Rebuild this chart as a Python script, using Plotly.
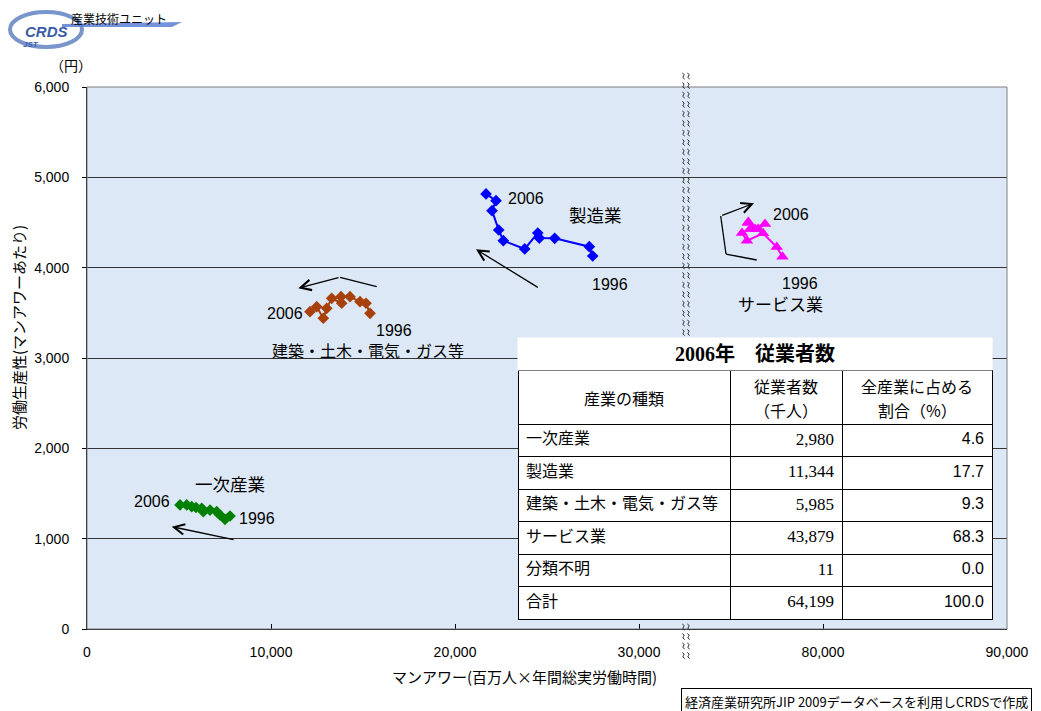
import plotly.graph_objects as go

# ---------------- data ----------------
years = list(range(1996, 2007))

mfg_x = [27485, 27300, 25419, 24583, 24500, 23789, 22626, 22376, 22012, 22229, 21686]
mfg_y = [4129, 4232, 4325, 4328, 4384, 4207, 4299, 4417, 4631, 4742, 4816]

con_x = [15381, 15164, 14838, 14294, 13805, 13843, 13299, 13028, 12843, 12484, 12120]
con_y = [3495, 3606, 3623, 3679, 3679, 3606, 3661, 3550, 3440, 3568, 3513]

pri_x = [7772, 7500, 7229, 7049, 6685, 6321, 6234, 5924, 5690, 5419, 5055]
pri_y = [1251, 1214, 1262, 1299, 1317, 1299, 1336, 1345, 1354, 1373, 1373]

srv_x = [77799, 77484, 76739, 75869, 75598, 76032, 76848, 76467, 75924, 76304, 75940]
srv_y = [4121, 4229, 4380, 4299, 4384, 4428, 4483, 4428, 4494, 4428, 4505]

y_ticks = [0, 1000, 2000, 3000, 4000, 5000, 6000]
x_ticks_left = [0, 10000, 20000, 30000]
x_ticks_right = [80000, 90000]

table_title = "2006年　従業者数"
table_header = [["産業の種類"], ["従業者数", "（千人）"], ["全産業に占める", "割合（%）"]]
table_industries = ["一次産業", "製造業", "建築・土木・電気・ガス等", "サービス業", "分類不明", "合計"]
table_workers = [2980, 11344, 5985, 43879, 11, 64199]
table_share = [4.6, 17.7, 9.3, 68.3, 0.0, 100.0]

# ---------------- layout geometry ----------------
W, H = 1041, 711
L, R, T, B = 87, 34, 87, 82
PW, PH = W - L - R, H - T - B
BREAK_PX = 686
d_break = (BREAK_PX - L) / PW
left_end = 32554
right_start = 72554

TBL_X = [518, 730, 842, 992]
TBL_TOP, TBL_HDR_BOTTOM, TBL_BOTTOM = 370, 424, 620


def px(x):
    return (x - L) / PW


def py(y):
    return (H - B - y) / PH


JP = "Noto Sans CJK JP"
AR = "Liberation Sans"

fig = go.Figure()

mk = dict(size=9, symbol="diamond")
fig.add_trace(go.Scatter(x=mfg_x, y=mfg_y, mode="lines+markers", xaxis="x", yaxis="y",
                         line=dict(color="#0000FF", width=2), marker=dict(color="#0000FF", **mk),
                         text=years))
fig.add_trace(go.Scatter(x=con_x, y=con_y, mode="lines+markers", xaxis="x", yaxis="y",
                         line=dict(color="#A8400C", width=2), marker=dict(color="#A8400C", **mk),
                         text=years))
fig.add_trace(go.Scatter(x=pri_x, y=pri_y, mode="lines+markers", xaxis="x", yaxis="y",
                         line=dict(color="#008000", width=2), marker=dict(color="#008000", **mk),
                         text=years))
fig.add_trace(go.Scatter(x=srv_x, y=srv_y, mode="lines+markers", xaxis="x2", yaxis="y",
                         line=dict(color="#FF00FF", width=2),
                         marker=dict(color="#FF00FF", size=11, symbol="triangle-up"),
                         text=years))

# table (header texts drawn as centred annotations on top)
fig.add_trace(go.Table(
    domain=dict(x=[px(TBL_X[0]), px(TBL_X[-1])], y=[py(TBL_BOTTOM), py(TBL_TOP)]),
    columnwidth=[TBL_X[1] - TBL_X[0], TBL_X[2] - TBL_X[1], TBL_X[3] - TBL_X[2]],
    header=dict(values=["", "", ""], height=TBL_HDR_BOTTOM - TBL_TOP,
                fill_color="white", line=dict(color="black", width=1),
                font=dict(family=JP, size=10, color="black")),
    cells=dict(values=[table_industries, table_workers, table_share],
               format=[None, ",", ".1f"], height=32.5,
               align=["left", "right", "right"],
               fill_color="white", line=dict(color="black", width=1),
               font=dict(family=[JP, "Liberation Serif", AR], size=[16, 17, 16], color="black")),
))

shapes = []
# plot border
shapes.append(dict(type="rect", xref="paper", yref="paper", x0=0, x1=1, y0=0, y1=1,
                   line=dict(color="#7F7F7F", width=1), layer="above"))

# axis break squiggles (skipping the table area)
path = ""
yy = 76
while yy <= 662:
    if not (333 <= yy <= 622):
        for dx in (-2.5, 2.5):
            xc = BREAK_PX + dx
            path += (f"M{px(xc-1.2):.5f},{py(yy-3):.5f} Q{px(xc+2):.5f},{py(yy-1.5):.5f} {px(xc):.5f},{py(yy):.5f} "
                     f"Q{px(xc-2):.5f},{py(yy+1.5):.5f} {px(xc+1.2):.5f},{py(yy+3):.5f} ")
    yy += 9.5
shapes.append(dict(type="path", xref="paper", yref="paper", path=path,
                   line=dict(color="#333333", width=1), layer="above"))

# arrow polylines (non-head segments)
shapes.append(dict(type="line", xref="x", yref="y", x0=15745, y0=3789, x1=13751, y1=3893,
                   line=dict(color="black", width=1.3)))
shapes.append(dict(type="line", xref="x2", yref="y", x0=76397, y0=4085, x1=74728, y1=4151,
                   line=dict(color="black", width=1.3)))
shapes.append(dict(type="line", xref="x2", yref="y", x0=74728, y0=4151, x1=74440, y1=4572,
                   line=dict(color="black", width=1.3)))

# logo
shapes.append(dict(type="circle", xref="paper", yref="paper", x0=px(10), x1=px(82), y0=py(47), y1=py(12),
                   line=dict(color="#7895CC", width=4), layer="above"))
shapes.append(dict(type="path", xref="paper", yref="paper",
                   path=f"M{px(62)},{py(24)} L{px(182)},{py(22)} L{px(172)},{py(27)} L{px(62)},{py(27)} Z",
                   fillcolor="#5C7FD6", line=dict(width=0), layer="above", opacity=0.85))

annotations = []


def ann(x, y, text, size=14, family=JP, **kw):
    d = dict(xref="paper", yref="paper", x=px(x), y=py(y), text=text, showarrow=False,
             font=dict(family=family, size=size, color=kw.pop("color", "black")),
             xanchor=kw.pop("xanchor", "center"), yanchor=kw.pop("yanchor", "middle"))
    d.update(kw)
    annotations.append(d)


# series labels
ann(526, 198.5, "2006", 16, AR)
ann(595, 214.5, "製造業", 17.5)
ann(609.5, 284, "1996", 16, AR)
ann(790.5, 214, "2006", 16, AR)
ann(799.5, 283.5, "1996", 16, AR)
ann(780.5, 303, "サービス業", 17)
ann(285, 313.5, "2006", 16, AR)
ann(393.5, 330, "1996", 16, AR)
ann(368, 349.5, "建築・土木・電気・ガス等", 16)
ann(230, 483.5, "一次産業", 17.5)
ann(151.5, 501, "2006", 16, AR)
ann(256.5, 518.5, "1996", 16, AR)

# header texts, one annotation per line, vertically centred in the header row
hdr_mid = (TBL_TOP + TBL_HDR_BOTTOM) / 2 + 1
for i, lines in enumerate(table_header):
    n = len(lines)
    for j, line in enumerate(lines):
        yline = hdr_mid + (j - (n - 1) / 2) * 23.5
        ann((TBL_X[i] + TBL_X[i + 1]) / 2, yline, line, 16)

# table title (white box)
annotations.append(dict(xref="paper", yref="paper", x=px(517), y=py(337), xanchor="left", yanchor="top",
                        width=474, height=32, bgcolor="white", borderpad=0, showarrow=False,
                        text="<b>" + table_title + "</b>", align="center", valign="middle",
                        font=dict(family="Liberation Serif, Noto Sans CJK JP", size=20, color="black")))

# axis titles / units
ann(71, 65, "（円）", 14)
ann(18, 328, "労働生産性(マンアワーあたり)", 15, textangle=-90)
ann(524, 676, "マンアワー(百万人×年間総実労働時間)", 15)

# source box
annotations.append(dict(xref="paper", yref="paper", x=px(681), y=py(688), xanchor="left", yanchor="top",
                        text="経済産業研究所JIP 2009データベースを利用しCRDSで作成", showarrow=False,
                        font=dict(family=JP, size=13, color="black"), bgcolor="white",
                        bordercolor="black", borderwidth=1, borderpad=3, align="left"))

# logo texts
ann(46, 31, "<b><i>CRDS</i></b>", 15, AR, color="#3A5CA8")
ann(31, 45, "<b><i>JST</i></b>", 8, AR, color="#3A5CA8")
ann(119, 19, "産業技術ユニット", 12)

# arrows (head at x,y ; tail at ax,ay)
arrow = dict(showarrow=True, arrowhead=5, arrowsize=1.6, arrowwidth=1.3, arrowcolor="black", text="")
annotations.append(dict(xref="x", yref="y", axref="x", ayref="y", x=4603, y=1133, ax=8044, ay=985, **arrow))
annotations.append(dict(xref="x", yref="y", axref="x", ayref="y", x=21142, y=4203, ax=24583, ay=3772, **arrow))
annotations.append(dict(xref="x", yref="y", axref="x", ayref="y", x=11484, y=3772, ax=13751, ay=3893, **arrow))
annotations.append(dict(xref="x2", yref="y", axref="x2", ayref="y", x=76250, y=4713, ax=74440, ay=4572, **arrow))

fig.update_layout(
    width=W, height=H, margin=dict(l=L, r=R, t=T, b=B),
    paper_bgcolor="white", plot_bgcolor="#DCE8F5",
    showlegend=False,
    shapes=shapes, annotations=annotations,
    xaxis=dict(domain=[0, d_break], range=[0, left_end], tickvals=x_ticks_left, tickformat=",",
               showgrid=False, zeroline=False, showline=True, linecolor="black", linewidth=1,
               ticks="inside", ticklen=5, tickcolor="black", anchor="y",
               tickfont=dict(family=AR, size=14, color="black"), ticklabelstandoff=10),
    xaxis2=dict(domain=[d_break, 1], range=[right_start, 90000.5], tickvals=x_ticks_right, tickformat=",",
                showgrid=False, zeroline=False, showline=True, linecolor="black", linewidth=1,
                ticks="inside", ticklen=5, tickcolor="black", anchor="y",
                tickfont=dict(family=AR, size=14, color="black"), ticklabelstandoff=10),
    yaxis=dict(range=[0, 6000], tickvals=y_ticks, tickformat=",", showgrid=True, gridcolor="#333333",
               gridwidth=1, zeroline=False, showline=True, linecolor="black", linewidth=1,
               ticks="outside", ticklen=4, tickcolor="black", anchor="x",
               tickfont=dict(family=AR, size=14, color="black"), ticklabelstandoff=10),
)

fig.write_html("out.html")
